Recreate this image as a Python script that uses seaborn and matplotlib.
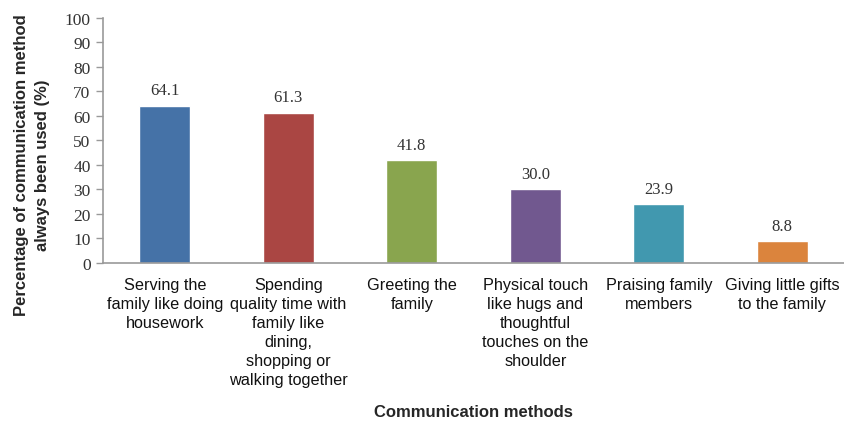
import matplotlib
matplotlib.use("Agg")
import matplotlib.pyplot as plt
import seaborn as sns
import pandas as pd

categories = [
    "Serving the\nfamily like doing\nhousework",
    "Spending\nquality time with\nfamily like\ndining,\nshopping or\nwalking together",
    "Greeting the\nfamily",
    "Physical touch\nlike hugs and\nthoughtful\ntouches on the\nshoulder",
    "Praising family\nmembers",
    "Giving little gifts\nto the family",
]
values = [64.1, 61.3, 41.8, 30.0, 23.9, 8.8]
colors = ["#4572A7", "#AA4643", "#89A54E", "#71588F", "#4198AF", "#DB843D"]

df = pd.DataFrame({"method": categories, "pct": values})

sns.set_theme(style="white")
plt.rcParams["font.family"] = ["Liberation Sans", "DejaVu Sans"]

fig = plt.figure(figsize=(8.45, 4.27), dpi=100)
ax = fig.add_axes([0.1219, 0.382, 0.877, 0.574])

sns.barplot(data=df, x="method", y="pct", hue="method", palette=colors,
            width=0.41, legend=False, ax=ax, saturation=1)

for i, v in enumerate(values):
    ax.text(i, v + 3, f"{v:.1f}", ha="center", va="bottom",
            fontsize=12, family="Liberation Serif", color="#333333")

ax.set_ylim(0, 100)
ax.set_xlim(-0.5, len(categories) - 0.5)
ax.set_yticks(range(0, 101, 10))
ax.set_yticklabels([str(t) for t in range(0, 101, 10)],
                   family="Liberation Serif", fontsize=12.5, color="#333333")

# tick marks at category boundaries on the x axis
ax.set_xticks([i - 0.5 for i in range(len(categories) + 1)], minor=False)
ax.set_xticklabels([""] * (len(categories) + 1))
ax.set_xticks(range(len(categories)), minor=True)
ax.set_xticklabels(categories, minor=True, fontsize=11.7, color="#111111",
                   linespacing=1.33)
ax.tick_params(axis="x", which="minor", length=0, pad=10)
ax.tick_params(axis="x", which="major", length=5, width=1, color="#999999", direction="out")
ax.tick_params(axis="y", length=5, width=1, color="#999999", direction="out", left=True, pad=4)

for s in ["top", "right"]:
    ax.spines[s].set_visible(False)
for s in ["left", "bottom"]:
    ax.spines[s].set_color("#999999")
    ax.spines[s].set_linewidth(1.2)

ax.set_xlabel("Communication methods", fontsize=12, fontweight="bold")
ax.xaxis.set_label_coords(0.5, -0.575)
ax.set_ylabel("Percentage of communication method\nalways been used (%)",
              fontsize=12, fontweight="bold", linespacing=1.5)
ax.yaxis.set_label_coords(-0.071, 0.404)

fig.savefig("out.png", dpi=100)
